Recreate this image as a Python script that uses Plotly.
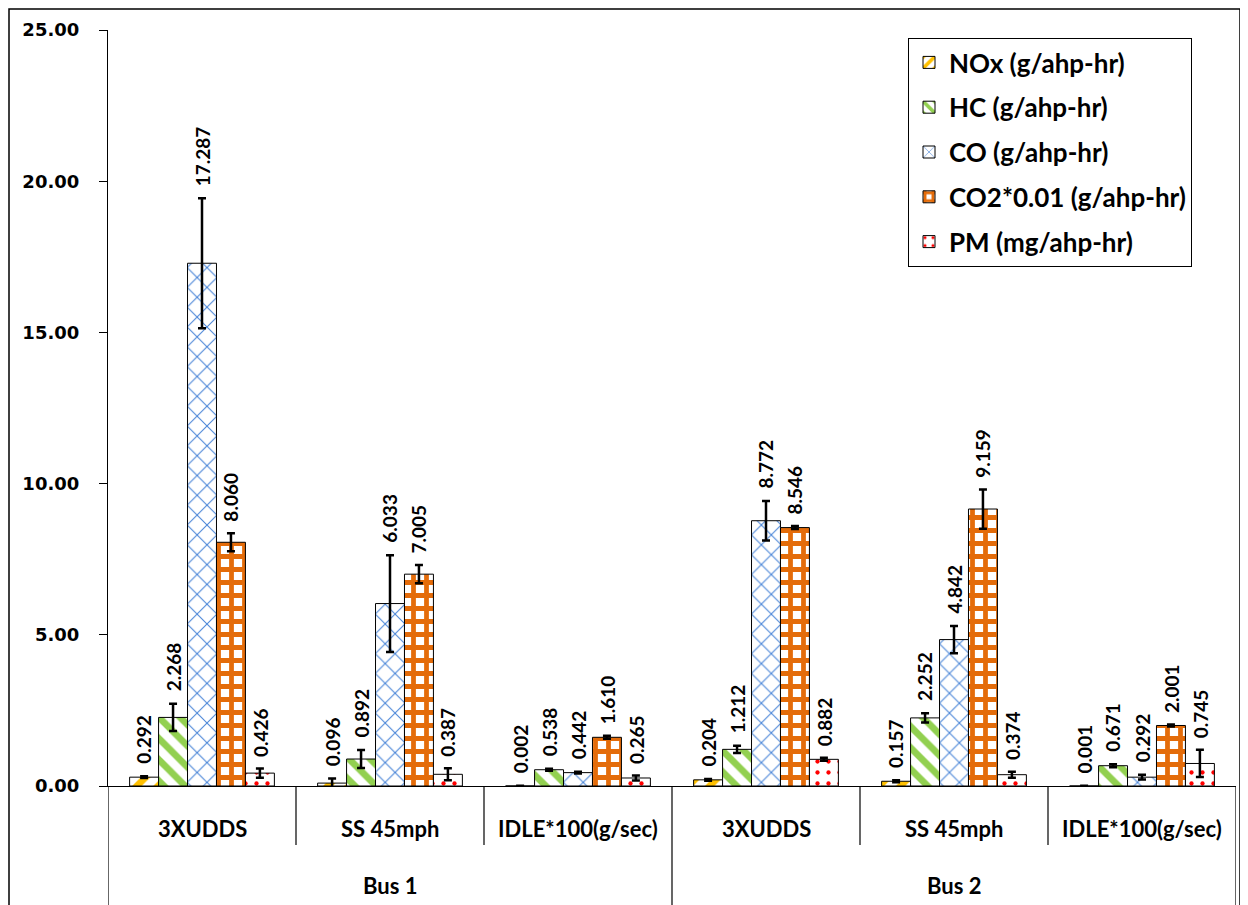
import plotly.graph_objects as go

groups = ["Bus 1", "Bus 2"]
tests = ["3XUDDS", "SS 45mph", "IDLE*100(g/sec)"]
categories = [f"{g}|{t}" for g in groups for t in tests]

series_names = ["NOx (g/ahp-hr)", "HC (g/ahp-hr)", "CO (g/ahp-hr)",
                "CO2*0.01 (g/ahp-hr)", "PM (mg/ahp-hr)"]

nox = [0.292, 0.096, 0.002, 0.204, 0.157, 0.001]
hc = [2.268, 0.892, 0.538, 1.212, 2.252, 0.671]
co = [17.287, 6.033, 0.442, 8.772, 4.842, 0.292]
co2 = [8.060, 7.005, 1.610, 8.546, 9.159, 2.001]
pm = [0.426, 0.387, 0.265, 0.882, 0.374, 0.745]

nox_err = [0.03, 0.15, 0.01, 0.03, 0.03, 0.005]
hc_err = [0.45, 0.30, 0.03, 0.12, 0.15, 0.05]
co_err = [2.15, 1.60, 0.03, 0.65, 0.45, 0.08]
co2_err = [0.30, 0.30, 0.05, 0.05, 0.65, 0.03]
pm_err = [0.15, 0.20, 0.08, 0.05, 0.10, 0.45]

values = [nox, hc, co, co2, pm]
errors = [nox_err, hc_err, co_err, co2_err, pm_err]

patterns = [
    dict(shape="/", fgcolor="#FFC000", bgcolor="white", size=15, solidity=0.45, fgopacity=1),
    dict(shape="\\", fgcolor="#92D050", bgcolor="white", size=15, solidity=0.45, fgopacity=1),
    dict(shape="x", fgcolor="#4A86D8", bgcolor="white", size=14, solidity=0.15, fgopacity=1),
    dict(shape="+", fgcolor="#E46C0A", bgcolor="white", size=13, solidity=0.6, fgopacity=1),
    dict(shape=".", fgcolor="#FF0000", bgcolor="white", size=11, solidity=0.12, fgopacity=1),
]

BARGAP = 0.23
n_series = len(values)
slot = (1 - BARGAP) / n_series
xs = list(range(len(categories)))

fig = go.Figure()
for i, (name, v, e, p) in enumerate(zip(series_names, values, errors, patterns)):
    fig.add_trace(go.Bar(
        name=name, x=xs, y=v,
        marker=dict(color="white", line=dict(color="black", width=1), pattern=p),
        error_y=dict(type="data", array=e, visible=True, color="black",
                     thickness=2.5, width=4),
        legendgroup=name,
    ))

# page offset of the body (8px) is removed from screen coordinates
OFF = 8
W, H = 1248, 905
L, T = 108 - OFF, 30 - OFF
R = W - (1236 - OFF)
B = H - (786 - OFF)
pw, ph = W - L - R, H - T - B

def py(px):
    return (H - B - (px - OFF)) / ph

def pxp(px):
    return (px - OFF - L) / pw

annotations = []
for i, (v, e) in enumerate(zip(values, errors)):
    for gi, (val, err) in enumerate(zip(v, e)):
        annotations.append(dict(
            x=gi + (i - (n_series - 1) / 2) * slot, y=val + err,
            xref="x", yref="y", text=f"<b>{val:.3f}</b>", showarrow=False,
            textangle=-90, yanchor="bottom", xanchor="center", yshift=10,
            font=dict(family="Lato", size=19, color="black"),
        ))

for gi, c in enumerate(categories):
    annotations.append(dict(
        x=gi, y=py(828), xref="x", yref="paper", text=f"<b>{c.split('|')[1]}</b>",
        showarrow=False, yanchor="middle",
        font=dict(family="Lato", size=22, color="black")))
for k, g in enumerate(groups):
    annotations.append(dict(
        x=k * len(tests) + (len(tests) - 1) / 2, y=py(885), xref="x", yref="paper",
        text=f"<b>{g}</b>", showarrow=False, yanchor="middle",
        font=dict(family="Lato", size=22, color="black")))

shapes = []
for k in range(len(categories) + 1):
    outer = (k % len(tests) == 0)
    shapes.append(dict(type="line", xref="x", yref="paper", x0=k - 0.5, x1=k - 0.5,
                       y0=0, y1=py(930) if outer else py(845),
                       line=dict(color="black", width=1.2)))
shapes.append(dict(type="rect", xref="paper", yref="paper",
                   x0=pxp(OFF + 1), x1=pxp(1240), y0=py(940), y1=py(OFF + 1),
                   line=dict(color="black", width=1.5), fillcolor="rgba(0,0,0,0)"))

fig.update_layout(
    width=W, height=H,
    margin=dict(l=L, r=R, t=T, b=B),
    paper_bgcolor="white", plot_bgcolor="white",
    barmode="group", bargap=BARGAP, bargroupgap=0,
    showlegend=True,
    legend=dict(x=pxp(908), y=py(38), xanchor="left", yanchor="top",
                bgcolor="white", bordercolor="black", borderwidth=1,
                font=dict(family="Lato", size=26, color="black", weight="bold"),
                tracegroupgap=8, traceorder="grouped", itemwidth=30),
    xaxis=dict(range=[-0.5, len(categories) - 0.5], showticklabels=False,
               showline=True, linecolor="black", linewidth=1.2, ticks="",
               showgrid=False, zeroline=False, fixedrange=True),
    yaxis=dict(range=[0, 25], dtick=5, tickformat=".2f", showline=True,
               linecolor="black", linewidth=1.2, ticks="outside", ticklen=8,
               tickcolor="black", showgrid=False, zeroline=False,
               ticklabelstandoff=16,
               tickfont=dict(family="DejaVu Sans", size=18, color="black", weight="bold")),
    annotations=annotations,
    shapes=shapes,
)

fig.write_html("out.html")
